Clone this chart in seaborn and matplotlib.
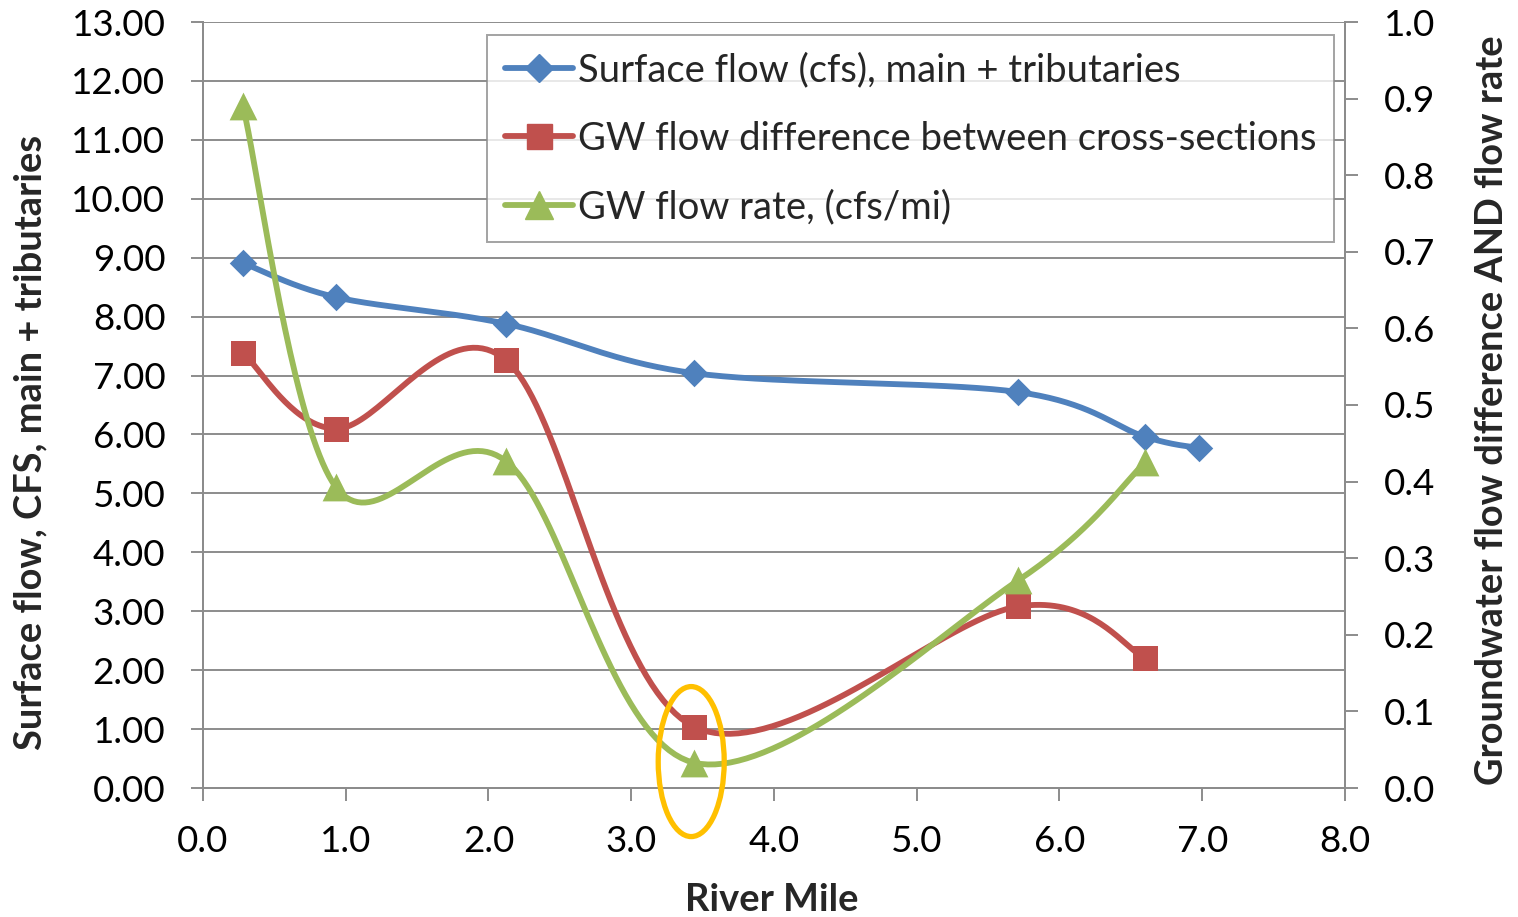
import numpy as np
import matplotlib
matplotlib.use("Agg")
import matplotlib.pyplot as plt
from matplotlib.lines import Line2D
from matplotlib.patches import Ellipse
import seaborn as sns

# ---- data ----
river_mile_surface = [0.28, 0.93, 2.12, 3.44, 5.71, 6.60, 6.98]
surface_flow = [8.91, 8.33, 7.88, 7.04, 6.72, 5.96, 5.77]
river_mile_gw = [0.28, 0.93, 2.12, 3.44, 5.71, 6.60]
gw_flow_diff = [0.568, 0.469, 0.559, 0.080, 0.237, 0.170]
gw_flow_rate = [0.890, 0.393, 0.427, 0.033, 0.271, 0.425]

labels = ["Surface flow (cfs), main + tributaries",
          "GW flow difference between cross-sections",
          "GW flow rate, (cfs/mi)"]
left_ticks = np.arange(0, 14, 1)
right_ticks = np.round(np.arange(0, 1.01, 0.1), 1)
x_ticks = np.arange(0, 9, 1)

BLUE, RED, GREEN, ORANGE = "#4F81BD", "#C0504D", "#9BBB59", "#FFC000"
GRID = "#8C8C8C"

sns.set_theme(style="white")
plt.rcParams['font.family'] = ['Lato', 'DejaVu Sans']
FS = 26.5
LFS = 27.5
TFS = 27.4


def smooth(x, y, n=40):
    """Excel-style smoothed line (Bezier through the points)."""
    pts = np.column_stack([x, y]).astype(float)
    P = np.vstack([pts[0], pts, pts[-1]])
    out = []
    t = np.linspace(0, 1, n)[:, None]
    for i in range(1, len(P) - 2):
        p0, p1, p2, p3 = P[i - 1], P[i], P[i + 1], P[i + 2]
        c1 = p1 + (p2 - p0) / 6
        c2 = p2 - (p3 - p1) / 6
        seg = (1 - t) ** 3 * p1 + 3 * (1 - t) ** 2 * t * c1 + 3 * (1 - t) * t ** 2 * c2 + t ** 3 * p2
        out.append(seg)
    s = np.vstack(out)
    return s[:, 0], s[:, 1]


fig = plt.figure(figsize=(15.18, 9.17), dpi=100)
ax = fig.add_axes([203 / 1518, 1 - 788 / 917, 1142 / 1518, 766 / 917])
ax2 = ax.twinx()

# primary axis: surface flow
sx, sy = smooth(river_mile_surface, surface_flow)
sns.lineplot(x=sx, y=sy, ax=ax, color=BLUE, lw=4.2, sort=False, estimator=None)
sns.scatterplot(x=river_mile_surface, y=surface_flow, ax=ax, marker='D', s=14 ** 2,
                color=BLUE, linewidth=0, zorder=5)

# secondary axis: GW series
rx, ry = smooth(river_mile_gw, gw_flow_diff)
gx, gy = smooth(river_mile_gw, gw_flow_rate)
sns.lineplot(x=rx, y=ry, ax=ax2, color=RED, lw=4.2, sort=False, estimator=None)
sns.lineplot(x=gx, y=gy, ax=ax2, color=GREEN, lw=4.2, sort=False, estimator=None)
sns.scatterplot(x=river_mile_gw, y=gw_flow_diff, ax=ax2, marker='s', s=18 ** 2,
                color=RED, linewidth=0, zorder=5)
sns.scatterplot(x=river_mile_gw, y=gw_flow_rate, ax=ax2, marker='^', s=20 ** 2,
                color=GREEN, linewidth=0, zorder=5)

# limits / ticks
ax.set_xlim(0, 8)
ax.set_ylim(0, 13)
ax2.set_ylim(0, 1.0)
ax.set_xticks(x_ticks)
ax.set_xticklabels([f"{v:.1f}" for v in x_ticks])
ax.set_yticks(left_ticks)
ax.set_yticklabels([f"{v:.2f}" for v in left_ticks])
ax2.set_yticks(right_ticks)
ax2.set_yticklabels([f"{v:.1f}" for v in right_ticks])

ax.grid(axis='y', color=GRID, lw=1.4)
ax.set_axisbelow(True)
for a in (ax, ax2):
    a.spines['top'].set_visible(False)
    for side in ('left', 'bottom', 'right'):
        a.spines[side].set_color(GRID)
        a.spines[side].set_linewidth(1.4)
ax.tick_params(axis='y', direction='out', length=9, width=1.4, color=GRID,
               labelsize=FS, pad=18, left=True, labelcolor='black')
ax.tick_params(axis='x', direction='out', length=9, width=1.4, color=GRID,
               labelsize=FS, pad=18, bottom=True, labelcolor='black')
ax2.tick_params(axis='y', direction='out', length=9, width=1.4, color=GRID,
                labelsize=FS, pad=19, right=True, labelcolor='black')
ax.set_xlabel("")
ax.set_ylabel("")
ax2.set_ylabel("")

# highlight ellipse
ell = Ellipse((3.42, 0.0345), width=66 / 142.75, height=150 / 766, fill=False,
              edgecolor=ORANGE, lw=3.8, clip_on=False, zorder=6, transform=ax2.transData)
ax2.add_patch(ell)

# legend
handles = [
    Line2D([], [], color=BLUE, lw=4.2, marker='D', ms=14),
    Line2D([], [], color=RED, lw=4.2, marker='s', ms=18),
    Line2D([], [], color=GREEN, lw=4.2, marker='^', ms=20),
]
leg = ax2.legend(handles, labels, loc='upper right', bbox_to_anchor=(0.990, 0.983),
                 borderaxespad=0, fontsize=LFS, frameon=True, fancybox=False,
                 edgecolor=GRID, handlelength=1.8, handletextpad=0.12,
                 labelspacing=0.85, borderpad=0.45)
leg.get_frame().set_linewidth(1.4)
leg.set_zorder(10)

# axis titles
fig.text(30 / 1518, 1 - 442 / 917, "Surface flow, CFS, main + tributaries", rotation=90,
         ha='center', va='center', fontsize=TFS, fontweight='bold')
fig.text(1492 / 1518, 1 - 410 / 917, "Groundwater flow difference AND flow rate", rotation=90,
         ha='center', va='center', fontsize=TFS, fontweight='bold')
fig.text(772 / 1518, 1 - 900 / 917, "River Mile", ha='center', va='center',
         fontsize=TFS, fontweight='bold')

fig.savefig("out.png", dpi=100)
